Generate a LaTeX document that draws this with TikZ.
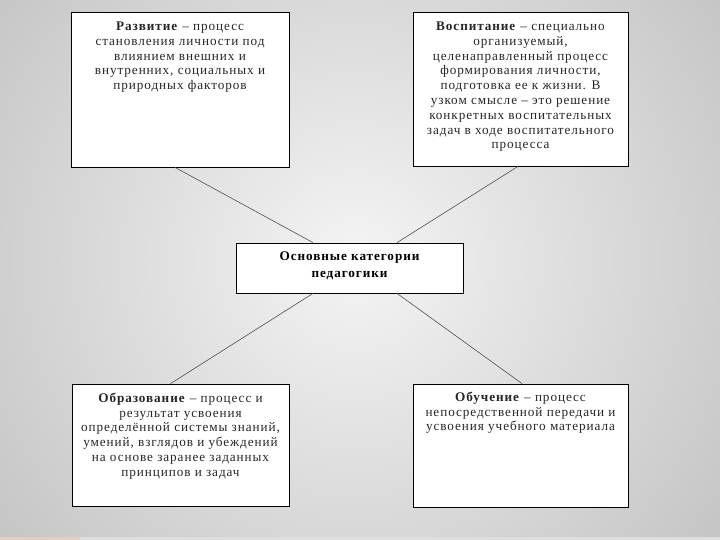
\documentclass[tikz,border=0pt]{standalone}
\usepackage{fontspec}
\setmainfont{Liberation Serif}[LetterSpace=7]
\definecolor{bgin}{HTML}{F4F4F4}
\definecolor{bgout}{HTML}{979797}
\definecolor{linkc}{HTML}{505050}
\definecolor{txt}{HTML}{262626}
\begin{document}
\begin{tikzpicture}[x=1pt,y=-1pt,
  catbox/.style={draw=black,line width=0.8pt,fill=white,inner sep=0pt},
  cattext/.style={anchor=north,align=center,inner sep=0pt,font=\fontsize{13.2}{14.8}\selectfont,text=txt},
  link/.style={draw=linkc,line width=0.6pt}]
\useasboundingbox (0,0) rectangle (720,540);
\begin{scope}
\clip (0,0) rectangle (720,540);
\shade[inner color=bgin,outer color=bgout] (355,260) circle (900);
\end{scope}
\fill[fill={rgb,255:red,230;green,206;blue,190}] (0,537) rectangle (80,540);
\fill[fill={rgb,255:red,222;green,222;blue,222}] (80,537) rectangle (720,540);

\node[catbox,minimum width=218pt,minimum height=155pt] (A) at (180,89.5) {};
\node[catbox,minimum width=215pt,minimum height=154pt] (B) at (520.5,89) {};
\node[catbox,minimum width=227pt,minimum height=50pt] (C) at (349.5,268) {};
\node[catbox,minimum width=217pt,minimum height=122pt] (D) at (180.5,445) {};
\node[catbox,minimum width=215pt,minimum height=123pt] (E) at (520.5,445.5) {};

\draw[link] ([xshift=-36.5pt]C.north) -- ([xshift=-5pt]A.south);
\draw[link] ([xshift=47.5pt]C.north) -- ([xshift=-2.5pt]B.south);
\draw[link] ([xshift=-36.5pt]C.south) -- ([xshift=-10pt]D.north);
\draw[link] ([xshift=47.5pt]C.south) -- ([xshift=1.5pt]E.north);

\node[cattext] (tA) at ([yshift=-10pt]A.north) {\textbf{Развитие} – процесс\\становления личности под\\влиянием внешних и\\внутренних, социальных и\\природных факторов};
\node[cattext] (tB) at ([yshift=-10pt]B.north) {\textbf{Воспитание} – специально\\организуемый,\\целенаправленный процесс\\формирования личности,\\подготовка ее к жизни. В\\узком смысле – это решение\\конкретных воспитательных\\задач в ходе воспитательного\\процесса};
\node[cattext,font=\fontsize{13.2}{17}\selectfont\bfseries,text=black] (tC) at ([yshift=-8.5pt]C.north) {Основные категории\\педагогики};
\node[cattext] (tD) at ([yshift=-9pt]D.north) {\textbf{Образование} – процесс и\\результат усвоения\\определённой системы знаний,\\умений, взглядов и убеждений\\на основе заранее заданных\\принципов и задач};
\node[cattext] (tE) at ([yshift=-8pt]E.north) {\textbf{Обучение} – процесс\\непосредственной передачи и\\усвоения учебного материала};
\end{tikzpicture}
\end{document}
